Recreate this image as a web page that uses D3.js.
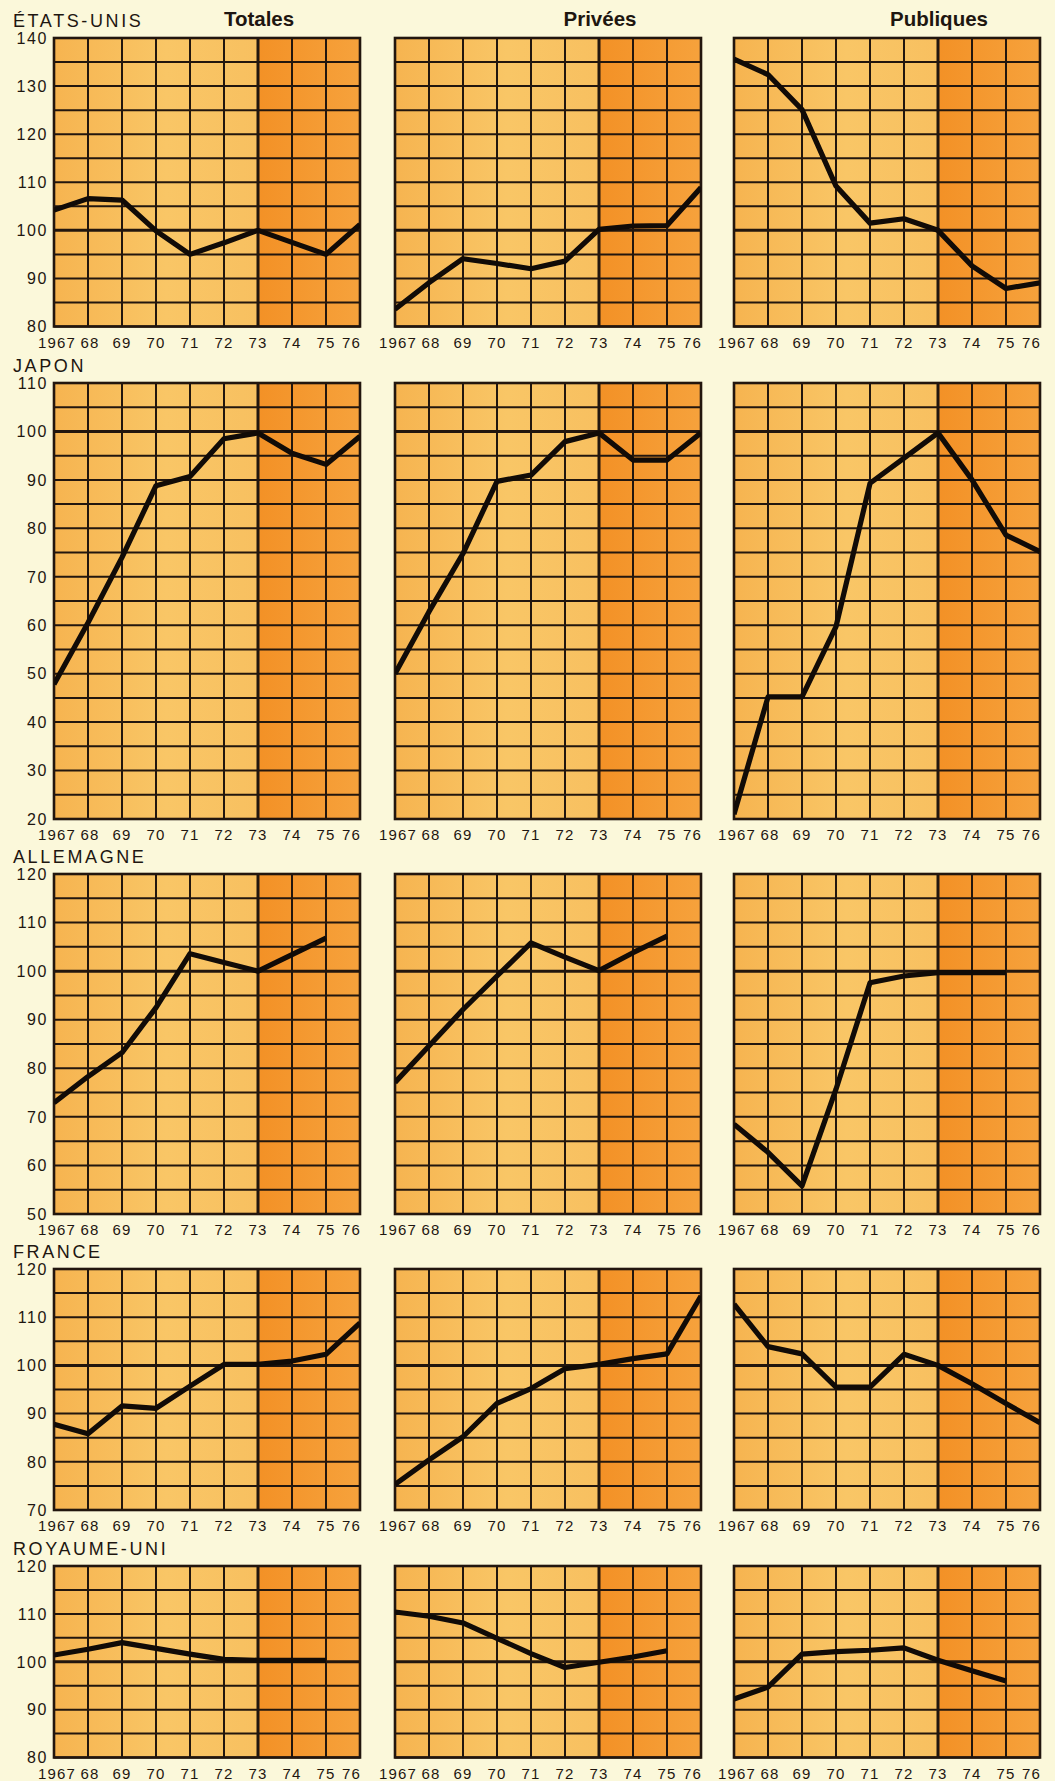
<!DOCTYPE html>
<html>
<head>
<meta charset="utf-8">
<script src="https://cdn.jsdelivr.net/npm/d3@7"></script>
<style>
  html, body { margin: 0; padding: 0; background: #fbf8da; }
  svg { display: block; }
</style>
</head>
<body>
<svg id="chart" width="1055" height="1781"></svg>
<script>
// ---------- DATA ----------
const years = [1967, 1968, 1969, 1970, 1971, 1972, 1973, 1974, 1975, 1976];
const yearLabels = ["1967", "68", "69", "70", "71", "72", "73", "74", "75", "76"];
const columns = ["Totales", "Privées", "Publiques"];
const countries = ["ÉTATS-UNIS", "JAPON", "ALLEMAGNE", "FRANCE", "ROYAUME-UNI"];
const yDomains = [[80, 140], [20, 110], [50, 120], [70, 120], [80, 120]];
const shadeStartYear = 1973;
const baseValue = 100;

const usTotales   = [104.2, 106.6, 106.3, 99.9, 95.0, 97.4, 100.0, 97.5, 95.0, 101.2];
const usPrivees   = [83.6, 89.1, 94.1, 93.1, 92.0, 93.6, 100.2, 100.9, 101.0, 108.9];
const usPubliques = [135.6, 132.4, 125.1, 109.2, 101.5, 102.4, 100.0, 92.6, 87.9, 89.1];

const jpTotales   = [47.8, 60.5, 74.0, 88.8, 90.7, 98.5, 99.7, 95.5, 93.2, 99.0];
const jpPrivees   = [50.0, 62.8, 74.8, 89.7, 91.0, 97.9, 99.7, 94.1, 94.1, 99.7];
const jpPubliques = [21.0, 45.2, 45.2, 59.7, 89.3, 94.5, 99.7, 90.0, 78.6, 75.2];

const deTotales   = [72.9, 78.3, 83.2, 92.5, 103.6, 101.8, 100.0, 103.4, 106.8, null];
const dePrivees   = [77.1, 84.6, 92.1, 99.0, 105.8, 102.9, 100.1, 103.8, 107.2, null];
const dePubliques = [68.5, 62.7, 55.8, 75.7, 97.6, 99.0, 99.7, 99.7, 99.7, null];

const frTotales   = [87.8, 85.8, 91.6, 91.1, 95.7, 100.2, 100.2, 100.9, 102.3, 108.8];
const frPrivees   = [75.3, 80.4, 85.2, 92.1, 95.2, 99.3, 100.2, 101.4, 102.4, 114.4];
const frPubliques = [112.7, 103.9, 102.4, 95.5, 95.5, 102.3, 100.0, 96.2, 92.1, 88.1];

const ukTotales   = [101.4, 102.6, 104.0, 102.8, 101.6, 100.5, 100.3, 100.3, 100.3, null];
const ukPrivees   = [110.4, 109.5, 108.1, 104.9, 101.7, 98.8, 99.9, 101.0, 102.3, null];
const ukPubliques = [92.2, 94.7, 101.6, 102.1, 102.4, 102.9, 100.3, 98.1, 96.0, null];

const seriesGrid = [
  [usTotales, usPrivees, usPubliques],
  [jpTotales, jpPrivees, jpPubliques],
  [deTotales, dePrivees, dePubliques],
  [frTotales, frPrivees, frPubliques],
  [ukTotales, ukPrivees, ukPubliques]
];

// ---------- LAYOUT ----------
const colLeft = [54, 395, 734];
const panelW = 306;
const rowBox = [
  { top: 38, bottom: 326.5 },
  { top: 383, bottom: 819 },
  { top: 874, bottom: 1214 },
  { top: 1269, bottom: 1510 },
  { top: 1566, bottom: 1757.5 }
];
const gridColor = "#22160e";
const textColor = "#1e1610";
const fontFam = "Liberation Sans, Arial, sans-serif";

const svg = d3.select("#chart");
const defs = svg.append("defs");

const gLight = defs.append("linearGradient").attr("id", "gLight")
  .attr("x1", "0%").attr("x2", "100%").attr("y1", "0%").attr("y2", "0%");
gLight.append("stop").attr("offset", "0%").attr("stop-color", "#f6b450");
gLight.append("stop").attr("offset", "55%").attr("stop-color", "#f9c666");
gLight.append("stop").attr("offset", "100%").attr("stop-color", "#f8c060");

const gDark = defs.append("linearGradient").attr("id", "gDark")
  .attr("x1", "0%").attr("x2", "100%").attr("y1", "0%").attr("y2", "0%");
gDark.append("stop").attr("offset", "0%").attr("stop-color", "#f39126");
gDark.append("stop").attr("offset", "100%").attr("stop-color", "#f6a23c");

// Column titles
columns.forEach((c, ci) => {
  svg.append("text")
    .attr("x", colLeft[ci] + panelW / 2 + 52)
    .attr("y", 26)
    .attr("text-anchor", "middle")
    .attr("font-family", fontFam)
    .attr("font-weight", "bold")
    .attr("font-size", 20.5)
    .attr("fill", textColor)
    .text(c);
});

countries.forEach((country, ri) => {
  const box = rowBox[ri];
  const dom = yDomains[ri];

  svg.append("text")
    .attr("x", 13)
    .attr("y", box.top - 11)
    .attr("font-family", fontFam)
    .attr("font-size", 18)
    .attr("letter-spacing", 2.6)
    .attr("fill", textColor)
    .text(country);

  columns.forEach((col, ci) => {
    const x0 = colLeft[ci];
    const x = d3.scaleLinear().domain([years[0], years[years.length - 1]]).range([x0, x0 + panelW]);
    const y = d3.scaleLinear().domain(dom).range([box.bottom, box.top]);
    const g = svg.append("g");

    // backgrounds
    g.append("rect")
      .attr("x", x(years[0])).attr("y", y(dom[1]))
      .attr("width", x(shadeStartYear) - x(years[0])).attr("height", y(dom[0]) - y(dom[1]))
      .attr("fill", "url(#gLight)");
    g.append("rect")
      .attr("x", x(shadeStartYear)).attr("y", y(dom[1]))
      .attr("width", x(years[years.length - 1]) - x(shadeStartYear)).attr("height", y(dom[0]) - y(dom[1]))
      .attr("fill", "url(#gDark)");

    // horizontal grid every 5
    const hVals = d3.range(dom[0], dom[1] + 0.01, 5);
    g.selectAll("line.h").data(hVals).join("line")
      .attr("x1", x(years[0])).attr("x2", x(years[years.length - 1]))
      .attr("y1", d => y(d)).attr("y2", d => y(d))
      .attr("stroke", gridColor)
      .attr("stroke-width", d => d === baseValue ? 3 : 2);

    // vertical grid each year
    g.selectAll("line.v").data(years).join("line")
      .attr("x1", d => x(d)).attr("x2", d => x(d))
      .attr("y1", y(dom[0])).attr("y2", y(dom[1]))
      .attr("stroke", gridColor)
      .attr("stroke-width", d => d === shadeStartYear ? 3 : 2);

    // border
    g.append("rect")
      .attr("x", x(years[0])).attr("y", y(dom[1]))
      .attr("width", panelW).attr("height", y(dom[0]) - y(dom[1]))
      .attr("fill", "none").attr("stroke", gridColor).attr("stroke-width", 2.6);

    // clip
    const clipId = `clip-${ri}-${ci}`;
    defs.append("clipPath").attr("id", clipId).append("rect")
      .attr("x", x(years[0])).attr("y", y(dom[1]) - 3)
      .attr("width", panelW).attr("height", y(dom[0]) - y(dom[1]) + 6);

    const vals = seriesGrid[ri][ci];
    const pts = years.map((yr, i) => ({ yr, v: vals[i] })).filter(d => d.v !== null);
    const line = d3.line().x(d => x(d.yr)).y(d => y(d.v));
    g.append("path")
      .datum(pts)
      .attr("d", line)
      .attr("fill", "none")
      .attr("stroke", "#110b07")
      .attr("stroke-width", 5.2)
      .attr("stroke-linejoin", "round")
      .attr("stroke-linecap", "butt")
      .attr("clip-path", `url(#${clipId})`);

    // x labels
    yearLabels.forEach((lab, i) => {
      let xp = x(years[i]);
      let anchor = "middle";
      if (i === 0) { xp = x(years[i]) + 3; }
      if (i === 1) { xp = x(years[i]) + 2; }
      if (i === years.length - 1) { xp = x(years[i]) + 1; anchor = "end"; }
      g.append("text")
        .attr("x", xp)
        .attr("y", box.bottom + 21)
        .attr("text-anchor", anchor)
        .attr("font-family", fontFam)
        .attr("font-size", 15)
        .attr("letter-spacing", 1.2)
        .attr("fill", textColor)
        .text(lab);
    });

    // y labels (first column only)
    if (ci === 0) {
      const tVals = d3.range(Math.ceil(dom[0] / 10) * 10, dom[1] + 0.01, 10);
      g.selectAll("text.yl").data(tVals).join("text")
        .attr("x", x0 - 6)
        .attr("y", d => y(d))
        .attr("dy", "0.36em")
        .attr("text-anchor", "end")
        .attr("font-family", fontFam)
        .attr("font-size", 16)
        .attr("letter-spacing", 1.6)
        .attr("fill", textColor)
        .text(d => d);
    }
  });
});
</script>
</body>
</html>
